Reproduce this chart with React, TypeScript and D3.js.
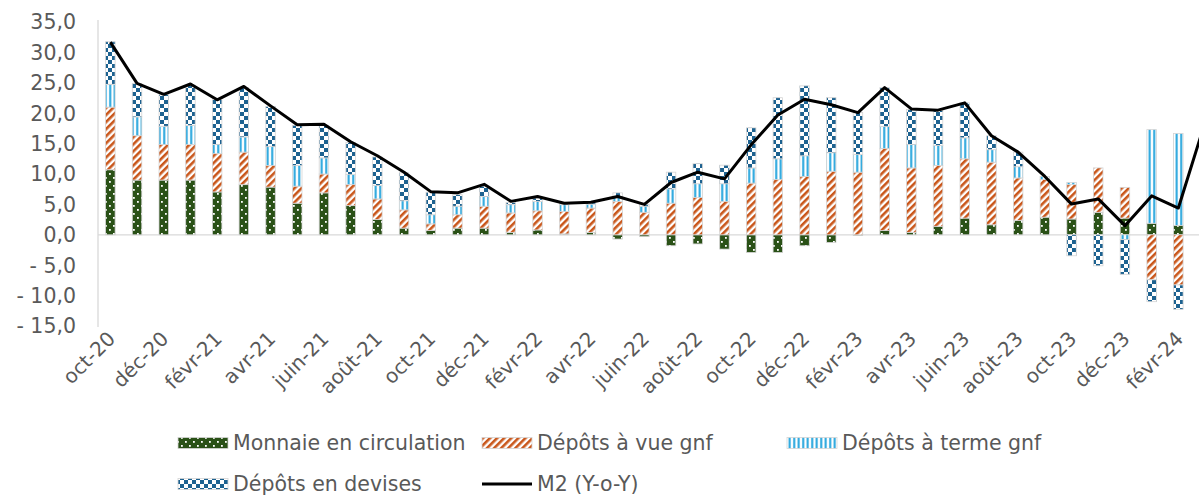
import React from 'react';
import * as d3 from 'd3';

const months = ['oct-20','nov-20','déc-20','janv-21','févr-21','mars-21','avr-21','mai-21','juin-21','juil-21','août-21','sept-21','oct-21','nov-21','déc-21','janv-22','févr-22','mars-22','avr-22','mai-22','juin-22','juil-22','août-22','sept-22','oct-22','nov-22','déc-22','janv-23','févr-23','mars-23','avr-23','mai-23','juin-23','juil-23','août-23','sept-23','oct-23','nov-23','déc-23','janv-24','févr-24','mars-24'];

const monnaie = [10.7, 9.0, 9.0, 9.0, 7.05, 8.25, 7.85, 5.2, 6.9, 4.8, 2.5, 1.1, 0.7, 1.1, 1.1, 0.4, 0.8, 0.15, 0.4, -0.7, -0.3, -1.8, -1.5, -2.35, -2.9, -2.9, -1.8, -1.25, -0.1, 0.7, 0.4, 1.4, 2.75, 1.65, 2.35, 2.9, 2.6, 3.7, 2.75, 1.9, 1.55];
const depotsVue = [10.3, 7.3, 5.85, 5.85, 6.3, 5.35, 3.55, 2.8, 3.1, 3.45, 3.4, 3.0, 1.1, 2.2, 3.6, 3.2, 3.15, 3.7, 4.0, 5.5, 3.7, 5.2, 6.15, 5.5, 8.5, 9.1, 9.6, 10.45, 10.3, 13.5, 10.6, 10.0, 9.75, 10.3, 7.0, 6.2, 5.65, 7.3, 5.05, -7.4, -8.25];
const depotsTerme = [3.75, 3.1, 3.0, 3.15, 1.5, 2.5, 3.1, 3.4, 2.65, 1.65, 2.2, 1.5, 1.5, 1.4, 1.6, 1.35, 1.55, 1.1, 0.65, 0.8, 1.0, 2.35, 2.25, 2.9, 2.5, 3.4, 3.4, 3.05, 2.9, 3.6, 3.85, 3.3, 3.45, 2.05, 1.85, 0.5, 0.35, 0.0, -0.8, 15.4, 15.1];
const depotsDevises = [7.0, 5.5, 5.2, 6.6, 7.55, 8.1, 6.6, 6.6, 5.35, 5.3, 4.7, 4.6, 3.7, 1.9, 1.7, 0.35, 0.55, 0.2, 0.25, 0.6, 0.3, 2.75, 3.3, 3.05, 6.6, 10.05, 11.5, 9.05, 6.9, 6.4, 5.75, 5.75, 5.75, 2.3, 2.4, 0.0, -3.45, -5.1, -5.7, -3.6, -4.0];
const m2 = [31.7, 24.9, 23.1, 24.8, 22.2, 24.4, 21.2, 18.1, 18.2, 15.3, 13.0, 10.3, 7.1, 6.9, 8.3, 5.5, 6.3, 5.2, 5.35, 6.3, 5.0, 8.6, 10.3, 9.2, 14.8, 19.7, 22.3, 21.4, 20.1, 24.2, 20.7, 20.5, 21.7, 16.3, 13.6, 9.6, 5.05, 5.9, 1.5, 6.4, 4.4, 18.5];

const yTicks = [-15, -10, -5, 0, 5, 10, 15, 20, 25, 30, 35];

const seriesKeys = ['monnaie', 'vue', 'terme', 'devises'];
const seriesLabels = ['Monnaie en circulation', 'Dépôts à vue gnf', 'Dépôts à terme gnf', 'Dépôts en devises'];
const seriesFill = ['url(#pat-monnaie)', 'url(#pat-vue)', 'url(#pat-terme)', 'url(#pat-devises)'];

const W = 1199;
const H = 495;
const FONT = 'DejaVu Sans, Verdana, sans-serif';
const TXT = '#595959';

function fmtTick(v: number): string {
  const s = Math.abs(v).toFixed(1).replace('.', ',');
  return v < 0 ? '- ' + s : s;
}

export default function App() {
  const x = d3.scaleBand<string>().domain(months).range([97, 97 + 26.7 * months.length]).padding(0);
  const y = d3.scaleLinear().domain([-15, 35]).range([326, 22]);
  const barW = 9.5;

  const rows = monnaie.map((_, i) => ({
    month: months[i],
    monnaie: monnaie[i],
    vue: depotsVue[i],
    terme: depotsTerme[i],
    devises: depotsDevises[i],
  }));
  const stack = d3.stack<any>().keys(seriesKeys).offset(d3.stackOffsetDiverging).order(d3.stackOrderNone);
  const stacked = stack(rows);

  const cx = (m: string) => (x(m) as number) + x.bandwidth() / 2;
  const line = d3.line<number>().x((_, i) => cx(months[i])).y((d) => y(d));

  const legendItems = [
    { kind: 'bar', idx: 0, sx: 178, sy: 443 },
    { kind: 'bar', idx: 1, sx: 482, sy: 443 },
    { kind: 'bar', idx: 2, sx: 787, sy: 443 },
    { kind: 'bar', idx: 3, sx: 178, sy: 484 },
    { kind: 'line', idx: 4, sx: 482, sy: 484 },
  ];

  return (
    <svg width={W} height={H} style={{ position: 'absolute', left: 0, top: 0, background: '#fff' }} fontFamily={FONT}>
      <defs>
        <pattern id="pat-monnaie" width="8" height="8" patternUnits="userSpaceOnUse">
          <rect width="8" height="8" fill="#2a5117" />
          <rect x="1" y="1" width="1.8" height="1.8" fill="#ffffff" />
          <rect x="5" y="5" width="1.8" height="1.8" fill="#ffffff" />
        </pattern>
        <pattern id="pat-vue" width="5" height="5" patternUnits="userSpaceOnUse" patternTransform="rotate(45)">
          <rect width="5" height="5" fill="#ffffff" />
          <rect width="2.6" height="5" fill="#c9561a" />
        </pattern>
        <pattern id="pat-terme" width="4.5" height="4" patternUnits="userSpaceOnUse">
          <rect width="4.5" height="4" fill="#ffffff" />
          <rect x="1.2" width="2" height="4" fill="#1fa3dc" />
        </pattern>
        <pattern id="pat-devises" width="8" height="8" patternUnits="userSpaceOnUse">
          <rect width="8" height="8" fill="#ffffff" />
          <rect width="4" height="4" fill="#1d6290" />
          <rect x="4" y="4" width="4" height="4" fill="#1d6290" />
        </pattern>
      </defs>

      {/* axes */}
      <line x1={98} x2={98} y1={y(35) - 2} y2={y(-15) + 1} stroke="#d9d9d9" strokeWidth={1.3} />
      <line x1={98} x2={W} y1={y(0)} y2={y(0)} stroke="#d9d9d9" strokeWidth={1.3} />

      {yTicks.map((t) => (
        <text key={t} x={76} y={y(t)} dy="0.36em" textAnchor="end" fontSize={20.5} fill={TXT}>
          {fmtTick(t)}
        </text>
      ))}

      {/* bars */}
      {stacked.map((s, si) => (
        <g key={s.key} fill={seriesFill[si]} stroke="#d4d4d4" strokeWidth={0.8}>
          {s.map((d, i) => {
            const y0 = y(d[0]);
            const y1 = y(d[1]);
            const h = Math.abs(y0 - y1);
            if (h < 0.01) return null;
            return <rect key={i} x={cx(months[i]) - barW / 2} y={Math.min(y0, y1)} width={barW} height={h} />;
          })}
        </g>
      ))}

      {/* M2 line */}
      <path d={line(m2) || ''} fill="none" stroke="#000" strokeWidth={3} strokeLinejoin="round" />

      {/* x labels */}
      {months.map((m, i) =>
        i % 2 === 0 && i < 41 ? (
          <text key={m} transform={`translate(${cx(m) + 1},${335}) rotate(-45)`} textAnchor="end" dy="0.36em" fontSize={20} fill={TXT}>
            {m}
          </text>
        ) : null
      )}

      {/* legend */}
      {legendItems.map((it) => (
        <g key={it.idx}>
          {it.kind === 'bar' ? (
            <rect x={it.sx} y={it.sy - 5.5} width={50} height={11} fill={seriesFill[it.idx]} stroke="#d4d4d4" strokeWidth={0.8} />
          ) : (
            <line x1={it.sx} x2={it.sx + 50} y1={it.sy} y2={it.sy} stroke="#000" strokeWidth={3} />
          )}
          <text x={it.sx + 55} y={it.sy} dy="0.36em" fontSize={20.5} fill={TXT}>
            {it.idx < 4 ? seriesLabels[it.idx] : 'M2 (Y-o-Y)'}
          </text>
        </g>
      ))}
    </svg>
  );
}
